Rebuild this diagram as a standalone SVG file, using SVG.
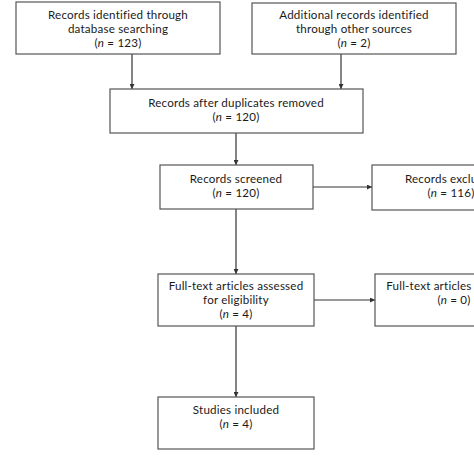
<svg xmlns="http://www.w3.org/2000/svg" width="474" height="474" viewBox="0 0 474 474">
<style>
.box{fill:#fff;stroke:#555;stroke-width:1.2}
.t{font-family:Lato,"Open Sans","Liberation Sans",sans-serif;font-size:11.6px;letter-spacing:0.2px;fill:#1a1a1a;text-anchor:middle}
.c{stroke:#333;stroke-width:1.2;fill:none;marker-end:url(#ah)}
</style>
<defs>
<marker id="ah" viewBox="0 0 10 10" refX="10" refY="5" markerWidth="5" markerHeight="5" orient="auto" markerUnits="userSpaceOnUse">
<path d="M0,0 L10,5 L0,10 z" fill="#333"/>
</marker>
</defs>
<rect width="474" height="474" fill="#fff"/>
<g id="connectors">
<path class="c" d="M132,54 V89"/>
<path class="c" d="M341,54 V89"/>
<path class="c" d="M236,133 V165"/>
<path class="c" d="M313,187 H372"/>
<path class="c" d="M236,209 V274"/>
<path class="c" d="M314,300 H375"/>
<path class="c" d="M236,326 V397"/>
</g>
<g id="n1"><rect class="box" x="16" y="2" width="204" height="52"/>
<text class="t" x="118" y="19">Records identified through</text>
<text class="t" x="118" y="33">database searching</text>
<text class="t" x="118" y="47">(<tspan font-style="italic">n</tspan> = 123)</text></g>
<g id="n2"><rect class="box" x="252" y="3" width="204" height="51"/>
<text class="t" x="354" y="19">Additional records identified</text>
<text class="t" x="354" y="33">through other sources</text>
<text class="t" x="354" y="47">(<tspan font-style="italic">n</tspan> = 2)</text></g>
<g id="n3"><rect class="box" x="110" y="89" width="253" height="44"/>
<text class="t" x="236" y="107">Records after duplicates removed</text>
<text class="t" x="236" y="121">(<tspan font-style="italic">n</tspan> = 120)</text></g>
<g id="n4"><rect class="box" x="160" y="165" width="153" height="44"/>
<text class="t" x="236" y="183">Records screened</text>
<text class="t" x="236" y="197">(<tspan font-style="italic">n</tspan> = 120)</text></g>
<g id="n5"><rect class="box" x="372" y="165" width="152" height="45"/>
<text class="t" x="451" y="183">Records excluded</text>
<text class="t" x="451" y="197">(<tspan font-style="italic">n</tspan> = 116)</text></g>
<g id="n6"><rect class="box" x="158" y="274" width="156" height="52"/>
<text class="t" x="236" y="290">Full-text articles assessed</text>
<text class="t" x="236" y="304">for eligibility</text>
<text class="t" x="236" y="318">(<tspan font-style="italic">n</tspan> = 4)</text></g>
<g id="n7"><rect class="box" x="375" y="274" width="158" height="52"/>
<text class="t" x="454" y="290">Full-text articles excluded</text>
<text class="t" x="454" y="304">(<tspan font-style="italic">n</tspan> = 0)</text></g>
<g id="n8"><rect class="box" x="158" y="397" width="156" height="52"/>
<text class="t" x="236" y="414">Studies included</text>
<text class="t" x="236" y="428">(<tspan font-style="italic">n</tspan> = 4)</text></g>
</svg>
